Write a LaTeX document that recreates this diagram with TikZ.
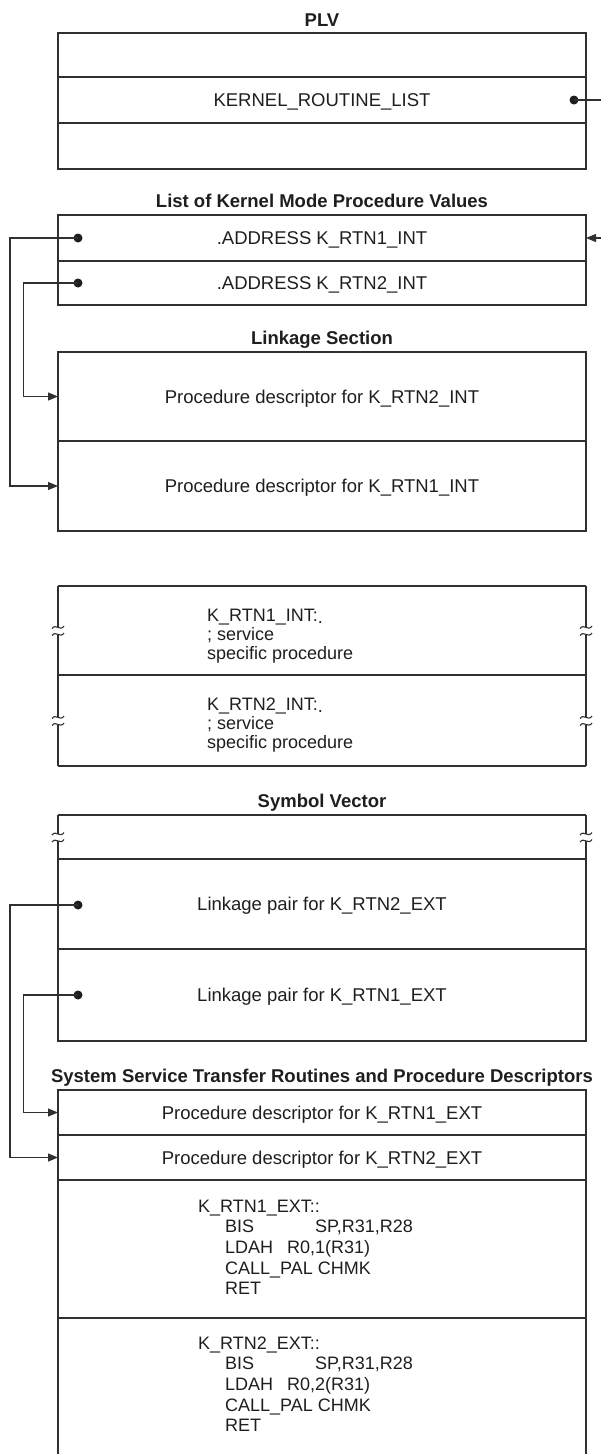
\documentclass[tikz,border=0pt]{standalone}
\usepackage{fontspec}
\setmainfont{Liberation Sans}
\usetikzlibrary{arrows.meta}
\definecolor{ink}{HTML}{1E1E1E}
\definecolor{edge}{HTML}{303030}
\begin{document}
\begin{tikzpicture}[x=1pt,y=-1pt,
  row/.style={draw=edge, line width=1.4pt, minimum width=528pt, inner sep=0pt, outer sep=0pt, rectangle},
  plainrow/.style={minimum width=528pt, inner sep=0pt, outer sep=0pt, rectangle},
  lbl/.style={font=\fontsize{18.5}{21}\selectfont, text=ink, inner sep=0pt, anchor=base},
  ttl/.style={font=\bfseries\fontsize{18.5}{21}\selectfont, text=ink, inner sep=0pt, anchor=base},
  code/.style={font=\fontsize{18}{21}\selectfont, text=ink, inner sep=0pt, anchor=base west},
  side/.style={draw=edge, line width=1.4pt},
  conn/.style={draw=edge, line width=1.1pt},
  arr/.style={conn, -{Triangle[length=10pt,width=8pt]}},
  dot/.style={circle, fill=ink, minimum size=9pt, inner sep=0pt},
  brk/.pic={\draw[edge, line width=1.1pt] (-6,1.5) .. controls (-2,-4) and (2,5) .. (6,-1);}
]
\useasboundingbox (0,0) rectangle (600,1454);

% ---------- PLV ----------
\node[ttl] (tplv) at (322,26) {PLV};
\node[row, minimum height=44pt] (p1) at (322,55) {};
\node[row, minimum height=46pt] (p2) at (322,100) {};
\node[row, minimum height=46pt] (p3) at (322,146) {};
\node[lbl] (tp2) at ([yshift=-6.5pt]p2.center) {KERNEL\_ROUTINE\_LIST};
\node[dot] (pd) at (574,100) {};

% ---------- List of Kernel Mode Procedure Values ----------
\node[ttl] (tlist) at (322,207) {List of Kernel Mode Procedure Values};
\node[row, minimum height=46pt] (l1) at (322,238) {};
\node[row, minimum height=44pt] (l2) at (322,283) {};
\node[lbl] (tl1) at ([yshift=-6.5pt]l1.center) {.ADDRESS K\_RTN1\_INT};
\node[lbl] (tl2) at ([yshift=-6.5pt]l2.center) {.ADDRESS K\_RTN2\_INT};
\node[dot] (ld1) at (78,238) {};
\node[dot] (ld2) at (78,283) {};

% ---------- Linkage Section ----------
\node[ttl] (tlink) at (322,344) {Linkage Section};
\node[row, minimum height=89pt] (lk1) at (322,396.5) {};
\node[row, minimum height=90pt] (lk2) at (322,486) {};
\node[lbl] (tlk1) at ([yshift=-6.5pt]lk1.center) {Procedure descriptor for K\_RTN2\_INT};
\node[lbl] (tlk2) at ([yshift=-6.5pt]lk2.center) {Procedure descriptor for K\_RTN1\_INT};

% ---------- service specific procedures ----------
\node[plainrow, minimum height=89pt] (ci1) at (322,630.5) {};
\node[plainrow, minimum height=91pt] (ci2) at (322,720.5) {};
\draw[side] (ci1.north west) -- (ci1.north east);
\draw[side] (ci1.south west) -- (ci1.south east);
\draw[side] (ci2.south west) -- (ci2.south east);
\foreach \r in {ci1,ci2}{
  \draw[side] (\r.north west) -- ([yshift=3.5pt]\r.west);
  \draw[side] ([yshift=-3.5pt]\r.west) -- (\r.south west);
  \draw[side] (\r.north east) -- ([yshift=3.5pt]\r.east);
  \draw[side] ([yshift=-3.5pt]\r.east) -- (\r.south east);
  \pic at ([yshift=3.5pt]\r.west) {brk};
  \pic at ([yshift=-3.5pt]\r.west) {brk};
  \pic at ([yshift=3.5pt]\r.east) {brk};
  \pic at ([yshift=-3.5pt]\r.east) {brk};
}
\node[code] (c1a) at (207,621) {K\_RTN1\_INT:\raisebox{-2pt}{.}};
\node[code] (c1b) at (207,640) {; service};
\node[code] (c1c) at (207,659) {specific procedure};
\node[code] (c2a) at (207,710) {K\_RTN2\_INT:\raisebox{-2pt}{.}};
\node[code] (c2b) at (207,729) {; service};
\node[code] (c2c) at (207,748) {specific procedure};

% ---------- Symbol Vector ----------
\node[ttl] (tsv) at (322,807) {Symbol Vector};
\node[plainrow, minimum height=44pt] (sv0) at (322,837) {};
\draw[side] (sv0.north west) -- (sv0.north east);
\draw[side] (sv0.north west) -- ([yshift=3.5pt]sv0.west);
\draw[side] ([yshift=-3.5pt]sv0.west) -- (sv0.south west);
\draw[side] (sv0.north east) -- ([yshift=3.5pt]sv0.east);
\draw[side] ([yshift=-3.5pt]sv0.east) -- (sv0.south east);
\pic at ([yshift=3.5pt]sv0.west) {brk};
\pic at ([yshift=-3.5pt]sv0.west) {brk};
\pic at ([yshift=3.5pt]sv0.east) {brk};
\pic at ([yshift=-3.5pt]sv0.east) {brk};
\node[row, minimum height=90pt] (sv1) at (322,904) {};
\node[row, minimum height=92pt] (sv2) at (322,995) {};
\node[lbl] (tsv1) at ([yshift=-6.5pt]sv1.center) {Linkage pair for K\_RTN2\_EXT};
\node[lbl] (tsv2) at ([yshift=-6.5pt]sv2.center) {Linkage pair for K\_RTN1\_EXT};
\node[dot] (sd1) at (78,905) {};
\node[dot] (sd2) at (78,995) {};

% ---------- System Service Transfer Routines ----------
\node[ttl] (tss) at (322,1082) {System Service Transfer Routines and Procedure Descriptors};
\node[row, minimum height=45pt] (ss1) at (322,1112.5) {};
\node[row, minimum height=45pt] (ss2) at (322,1157.5) {};
\node[row, minimum height=138pt] (ss3) at (322,1249) {};
\node[plainrow, minimum height=142pt] (ss4) at (322,1389) {};
\draw[side] (ss4.north west) -- (ss4.north east);
\draw[side] (ss4.north west) -- (ss4.south west);
\draw[side] (ss4.north east) -- (ss4.south east);
\node[lbl] (tss1) at ([yshift=-6.5pt]ss1.center) {Procedure descriptor for K\_RTN1\_EXT};
\node[lbl] (tss2) at ([yshift=-6.5pt]ss2.center) {Procedure descriptor for K\_RTN2\_EXT};

\node[code] (e1a) at (198,1212) {K\_RTN1\_EXT::};
\node[code] (e1b) at (225,1232) {\makebox[90pt][l]{BIS}SP,R31,R28};
\node[code] (e1c) at (225,1253) {\makebox[62pt][l]{LDAH}R0,1(R31)};
\node[code] (e1d) at (225,1274) {CALL\_PAL CHMK};
\node[code] (e1e) at (225,1294) {RET};
\node[code] (e2a) at (198,1349) {K\_RTN2\_EXT::};
\node[code] (e2b) at (225,1369) {\makebox[90pt][l]{BIS}SP,R31,R28};
\node[code] (e2c) at (225,1390) {\makebox[62pt][l]{LDAH}R0,2(R31)};
\node[code] (e2d) at (225,1411) {CALL\_PAL CHMK};
\node[code] (e2e) at (225,1431) {RET};

% ---------- connectors ----------
\coordinate (ox) at (10,0);
\coordinate (ix) at (23.5,0);
\coordinate (rx) at (615,0);
\draw[arr] (ld1.center) -- (ld1.center -| ox) |- (lk2.west);
\draw[arr] (ld2.center) -- (ld2.center -| ix) |- (lk1.west);
\draw[arr] (sd1.center) -- (sd1.center -| ox) |- (ss2.west);
\draw[arr] (sd2.center) -- (sd2.center -| ix) |- (ss1.west);
\draw[arr] (pd.center) -- (pd.center -| rx) |- (l1.east);
\end{tikzpicture}
\end{document}
